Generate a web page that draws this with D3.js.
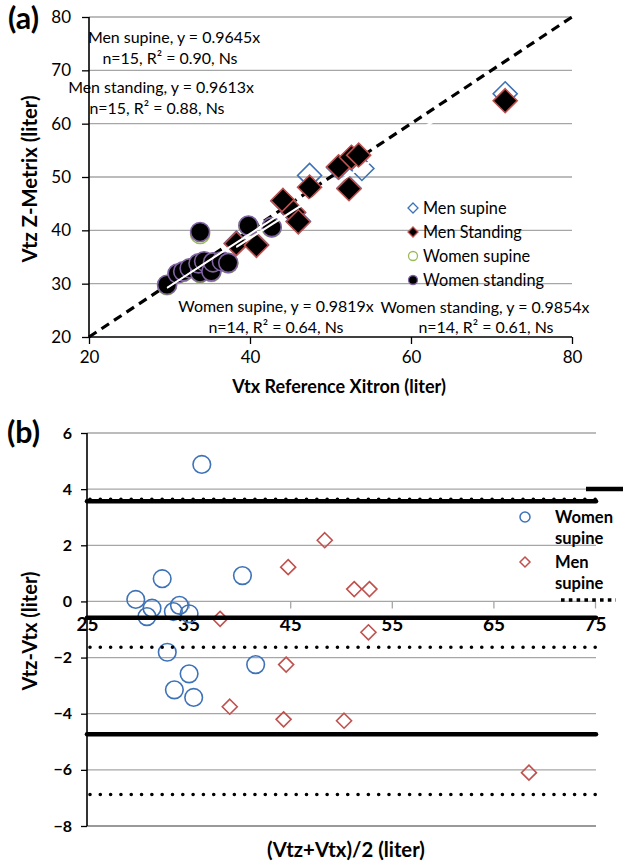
<!DOCTYPE html>
<html><head><meta charset="utf-8">
<script src="https://cdn.jsdelivr.net/npm/d3@7"></script>
<style>
body{margin:0;background:#fff;}
text{font-family:Lato,"Open Sans",sans-serif;}
</style></head>
<body><svg id="c" width="623" height="864"></svg>
<script>
// ---------- Panel (a) data: [Vtx reference, Vtz Z-Metrix] ----------
const menSupineA = [[38.3,37.6],[40.8,37.3],[44.1,45.5],[45.4,43.3],[46.0,41.7],[47.4,50.3],[51.0,51.8],[52.3,47.9],[52.6,53.6],[53.9,51.6],[71.7,65.6]];
const menStandingA = [[38.3,37.5],[40.8,37.2],[44.1,45.6],[45.4,43.4],[46.0,41.6],[47.4,48.1],[51.0,51.9],[52.3,47.8],[52.6,53.7],[53.5,54.1],[71.7,64.3]];
const womenSupineA = [[29.7,29.7],[31.0,31.8],[31.7,32.2],[32.5,32.8],[33.8,32.0],[33.6,33.7],[34.3,34.1],[35.2,32.2],[35.4,33.9],[36.5,34.1],[37.3,33.8],[33.8,39.3],[39.8,40.8],[42.7,40.5]];
const womenStandingA = [[29.7,29.8],[31.0,31.9],[31.7,32.3],[32.5,32.9],[33.8,32.1],[33.6,33.8],[34.3,34.2],[35.2,32.3],[35.4,34.0],[36.5,34.2],[37.3,33.9],[33.8,39.7],[39.8,40.9],[42.7,40.6]];
const ticksA = [20,30,40,50,60,70,80];
const ticksAx = [20,40,60,80];
const legendA = ["Men supine","Men Standing","Women supine","Women standing"];
const trendA = [
  {slope:0.9645, x0:38.3, x1:71.7},
  {slope:0.9613, x0:38.3, x1:71.7},
  {slope:0.9819, x0:29.7, x1:43.5},
  {slope:0.9854, x0:29.7, x1:43.5}
];
const annotA = [
  ["Men supine, y = 0.9645x","n=15, R\u00b2 = 0.90, Ns"],
  ["Men standing, y = 0.9613x","n=15, R\u00b2 = 0.88, Ns"],
  ["Women supine, y = 0.9819x","n=14, R\u00b2 = 0.64, Ns"],
  ["Women standing, y = 0.9854x","n=14, R\u00b2 = 0.61, Ns"]
];

// ---------- Panel (b) data: [(Vtz+Vtx)/2, Vtz-Vtx] ----------
const womenSupineB = [[29.8,0.07],[30.9,-0.54],[31.4,-0.24],[32.4,0.81],[33.5,-0.36],[34.1,-0.14],[35.05,-0.44],[36.3,4.88],[40.3,0.92],[32.9,-1.81],[35.05,-2.58],[33.6,-3.15],[35.5,-3.42],[41.6,-2.25]];
const menSupineB = [[38.1,-0.62],[44.8,1.22],[48.4,2.18],[51.3,0.44],[52.8,0.44],[52.7,-1.1],[44.6,-2.25],[39.05,-3.75],[44.35,-4.2],[50.3,-4.25],[68.5,-6.1]];
const meanLinesB = [3.57,-0.58,-4.73];   // thick solid
const dotLinesB = [3.64,-1.63,-6.88];    // dotted
const ticksBy = [-8,-6,-4,-2,0,2,4,6];
const ticksBx = [25,35,45,55,65,75];
const legendB = [["Women","supine"],["Men","supine"]];

const svg = d3.select("#c");
const grid = "#a6a6a6";
const blue = "#3d72b8", red = "#c0504d", green = "#9bbb59", purple = "#8064a2";

// fit a text element to a target width by scaling its font size
function fit(sel, w){
  const fs = +sel.attr("font-size");
  const len = sel.node().getComputedTextLength();
  if (len > 0) sel.attr("font-size", fs * w / len);
  return sel;
}
function diamondPath(half){ return `M0,${-half}L${half},0L0,${half}L${-half},0Z`; }

// ================= Panel (a) =================
const xa = d3.scaleLinear([20,80],[89,572]);
const ya = d3.scaleLinear([20,80],[337,17]);
const ga = svg.append("g");

ga.selectAll("line.grid").data(ticksA.filter(t=>t>20)).join("line")
  .attr("x1",xa(20)).attr("x2",xa(80)).attr("y1",d=>ya(d)).attr("y2",d=>ya(d))
  .attr("stroke",grid).attr("stroke-width",1.3);

const axLeftA = ga.append("g").attr("transform",`translate(${xa(20)},0)`)
  .call(d3.axisLeft(ya).tickValues(ticksA).tickSize(7).tickPadding(11));
const axBotA = ga.append("g").attr("transform",`translate(0,${ya(20)})`)
  .call(d3.axisBottom(xa).tickValues(ticksAx).tickSize(7).tickPadding(7));
axLeftA.select(".domain").attr("d",`M0,${ya(80)}V${ya(20)}`);
axBotA.select(".domain").attr("d",`M${xa(20)},0H${xa(80)}`);
[axLeftA,axBotA].forEach(a=>{
  a.select(".domain").attr("stroke","#000").attr("stroke-width",1.6);
  a.selectAll(".tick line").attr("stroke","#000").attr("stroke-width",1.3);
  a.selectAll(".tick text").attr("font-size",17).attr("fill","#000").attr("font-family","Lato, sans-serif");
});

// identity dashed line
ga.append("line").attr("x1",xa(20)).attr("y1",ya(20)).attr("x2",xa(80)).attr("y2",ya(80))
  .attr("stroke","#000").attr("stroke-width",3.2).attr("stroke-dasharray","9,6");

ga.selectAll("path.ms").data(menSupineA).join("path")
  .attr("d",diamondPath(12)).attr("transform",d=>`translate(${xa(d[0])},${ya(d[1])})`)
  .attr("fill","none").attr("stroke",blue).attr("stroke-width",1.6);
ga.selectAll("path.mst").data(menStandingA).join("path")
  .attr("d",diamondPath(12)).attr("transform",d=>`translate(${xa(d[0])},${ya(d[1])})`)
  .attr("fill","#000").attr("stroke",red).attr("stroke-width",1.6);
ga.selectAll("circle.ws").data(womenSupineA).join("circle")
  .attr("cx",d=>xa(d[0])).attr("cy",d=>ya(d[1])).attr("r",9.5)
  .attr("fill","none").attr("stroke",green).attr("stroke-width",1.6);
ga.selectAll("circle.wst").data(womenStandingA).join("circle")
  .attr("cx",d=>xa(d[0])).attr("cy",d=>ya(d[1])).attr("r",9.5)
  .attr("fill","#000").attr("stroke",purple).attr("stroke-width",1.6);

ga.selectAll("line.trend").data(trendA).join("line")
  .attr("x1",d=>xa(d.x0)).attr("y1",d=>ya(d.slope*d.x0))
  .attr("x2",d=>xa(d.x1)).attr("y2",d=>ya(d.slope*d.x1))
  .attr("stroke","#fff").attr("stroke-width",1.5);

// legend (a)
const legA = ga.append("g");
const legRowsA = [208,232,256,280];
const legTxtA = legA.selectAll("text").data(legendA).join("text")
  .attr("x",423).attr("y",(d,i)=>legRowsA[i]+5.5).attr("font-size",16).text(d=>d);
// fit font to "Women standing" reference width
{
  const last = legTxtA.filter((d,i)=>i===3);
  const len = last.node().getComputedTextLength();
  legTxtA.attr("font-size", 16*121/len);
}
legA.append("path").attr("d",diamondPath(5)).attr("transform",`translate(413,${legRowsA[0]})`)
  .attr("fill","#fff").attr("stroke",blue).attr("stroke-width",1.3);
legA.append("path").attr("d",diamondPath(5)).attr("transform",`translate(413,${legRowsA[1]})`)
  .attr("fill","#000").attr("stroke",red).attr("stroke-width",1.3);
legA.append("circle").attr("cx",413).attr("cy",legRowsA[2]).attr("r",4.5)
  .attr("fill","#fff").attr("stroke",green).attr("stroke-width",1.3);
legA.append("circle").attr("cx",413).attr("cy",legRowsA[3]).attr("r",4.5)
  .attr("fill","#000").attr("stroke",purple).attr("stroke-width",1.3);

// annotations (a)
const annPos = [[174,43,170,64],[161,93,157,114],[276,312,276,333],[485,313,486,333]];
const annNodes = [];
annotA.forEach((a,i)=>{
  const p = annPos[i];
  annNodes.push(ga.append("text").attr("x",p[0]).attr("y",p[1]).attr("text-anchor","middle").attr("font-size",16).text(a[0]));
  annNodes.push(ga.append("text").attr("x",p[2]).attr("y",p[3]).attr("text-anchor","middle").attr("font-size",16).text(a[1]));
});
{
  const ref = annNodes[6].node().getComputedTextLength(); // Women standing line
  const fs = 16*209/ref;
  annNodes.forEach(n=>n.attr("font-size",fs));
}

// titles (a)
fit(ga.append("text").attr("x",8).attr("y",29).attr("font-size",21).attr("font-weight","bold").text("(a)"),31);
fit(ga.append("text").attr("x",339).attr("y",393).attr("text-anchor","middle").attr("font-size",18).attr("font-weight","bold").text("Vtx Reference Xitron (liter)"),214);
fit(ga.append("text").attr("transform","translate(37,179) rotate(-90)").attr("text-anchor","middle").attr("font-size",18).attr("font-weight","bold").text("Vtz Z-Metrix (liter)"),167);

// ================= Panel (b) =================
const xb = d3.scaleLinear([25,75],[87,595]);
const yb = d3.scaleLinear([-8,6],[826,433]);
const gb = svg.append("g");

gb.selectAll("line.grid").data(ticksBy.filter(t=>t!==-8)).join("line")
  .attr("x1",xb(25)).attr("x2",xb(75)+1).attr("y1",d=>yb(d)).attr("y2",d=>yb(d))
  .attr("stroke",grid).attr("stroke-width",1.3);
gb.append("line").attr("x1",xb(25)).attr("x2",xb(75)+1).attr("y1",yb(-8)).attr("y2",yb(-8))
  .attr("stroke","#777").attr("stroke-width",1.3);

const axLeftB = gb.append("g").attr("transform",`translate(${xb(25)},0)`)
  .call(d3.axisLeft(yb).tickValues(ticksBy).tickSize(6).tickPadding(9));
axLeftB.select(".domain").attr("d",`M0,${yb(6)}V${yb(-8)}`).attr("stroke","#000").attr("stroke-width",1.6);
axLeftB.selectAll(".tick line").attr("stroke","#000").attr("stroke-width",1.3);
axLeftB.selectAll(".tick text").attr("font-size",16).attr("font-weight","bold").attr("fill","#000").attr("font-family","Lato, sans-serif");

const axBotB = gb.append("g").attr("transform",`translate(0,${yb(0)})`)
  .call(d3.axisBottom(xb).tickValues(ticksBx).tickSize(7).tickPadding(9));
axBotB.select(".domain").remove();
axBotB.selectAll(".tick line").attr("stroke",grid).attr("stroke-width",1.3).filter(d=>d===25).remove();
axBotB.selectAll(".tick text").attr("font-size",19).attr("font-weight","bold").attr("fill","#000").attr("font-family","Lato, sans-serif");

gb.selectAll("circle.wsb").data(womenSupineB).join("circle")
  .attr("cx",d=>xb(d[0])).attr("cy",d=>yb(d[1])).attr("r",8.8)
  .attr("fill","none").attr("stroke",blue).attr("stroke-width",1.6);
gb.selectAll("path.msb").data(menSupineB).join("path")
  .attr("d",diamondPath(7.5)).attr("transform",d=>`translate(${xb(d[0])},${yb(d[1])})`)
  .attr("fill","none").attr("stroke",red).attr("stroke-width",1.6);

gb.selectAll("line.dot").data(dotLinesB).join("line")
  .attr("x1",xb(25)+3).attr("x2",xb(75)+3).attr("y1",d=>yb(d)).attr("y2",d=>yb(d))
  .attr("stroke","#000").attr("stroke-width",3.6).attr("stroke-linecap","round").attr("stroke-dasharray","0.01,10.3");
gb.selectAll("line.mean").data(meanLinesB).join("line")
  .attr("x1",xb(25)).attr("x2",xb(75)+1).attr("y1",d=>yb(d)).attr("y2",d=>yb(d))
  .attr("stroke","#000").attr("stroke-width",4.5).attr("stroke-linecap","round");

// legend (b)
gb.append("line").attr("x1",586).attr("x2",630).attr("y1",489).attr("y2",489).attr("stroke","#000").attr("stroke-width",4.5);
gb.append("line").attr("x1",561).attr("x2",616).attr("y1",600).attr("y2",600).attr("stroke","#000").attr("stroke-width",3.6)
  .attr("stroke-dasharray","3.6,4.2");
gb.append("circle").attr("cx",525).attr("cy",517).attr("r",5).attr("fill","none").attr("stroke",blue).attr("stroke-width",1.5);
gb.append("path").attr("d",diamondPath(5)).attr("transform","translate(525,562)").attr("fill","none").attr("stroke",red).attr("stroke-width",1.5);
const legYB = [[523,544],[568,589]];
const legNodesB = [];
legendB.forEach((l,i)=>{
  legNodesB.push(gb.append("text").attr("x",555).attr("y",legYB[i][0]).attr("font-size",16).attr("font-weight","bold").text(l[0]));
  legNodesB.push(gb.append("text").attr("x",555).attr("y",legYB[i][1]).attr("font-size",16).attr("font-weight","bold").text(l[1]));
});
{
  const len = legNodesB[0].node().getComputedTextLength();
  legNodesB.forEach(n=>n.attr("font-size",16*58/len));
}

// titles (b)
fit(gb.append("text").attr("x",7).attr("y",443).attr("font-size",21).attr("font-weight","bold").text("(b)"),33);
fit(gb.append("text").attr("x",346).attr("y",857).attr("text-anchor","middle").attr("font-size",18).attr("font-weight","bold").text("(Vtz+Vtx)/2 (liter)"),158);
fit(gb.append("text").attr("transform","translate(37,631) rotate(-90)").attr("text-anchor","middle").attr("font-size",18).attr("font-weight","bold").text("Vtz-Vtx (liter)"),119);
</script></body></html>
